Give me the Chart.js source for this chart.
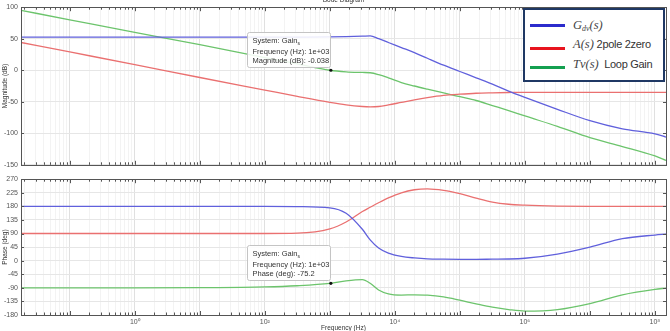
<!DOCTYPE html>
<html>
<head>
<meta charset="utf-8">
<script src="https://cdn.jsdelivr.net/npm/chart.js@4.4.1/dist/chart.umd.min.js"></script>
<style>
  body { margin: 0; background: #fff; width: 670px; height: 331px; overflow: hidden; position: relative; font-family: "Liberation Sans", Arial, sans-serif; }
  #magWrap { position: absolute; left: 0; top: 0; width: 670px; height: 172px; }
  #phaseWrap { position: absolute; left: 0; top: 172px; width: 670px; height: 159px; }
  #legendBox { position: absolute; left: 523px; top: 8px; width: 142px; height: 74px; box-sizing: border-box; border: 2.5px solid #1f3864; background: #fff; }
  .swatch { position: absolute; left: 530px; width: 35px; height: 3px; }
  .ltext { position: absolute; left: 573px; height: 14px; line-height: 14px; font-size: 11px; color: #333; letter-spacing: -0.3px; white-space: nowrap; }
  .ltext i { font-family: "Liberation Serif", "DejaVu Serif", serif; font-size: 12.5px; letter-spacing: 0; color: #444; }
  .ltext sub { font-size: 8px; vertical-align: -2px; }
</style>
</head>
<body>
<div id="magWrap"><canvas id="magChart" width="670" height="172"></canvas></div>
<div id="phaseWrap"><canvas id="phaseChart" width="670" height="159"></canvas></div>

<div id="legendBox"></div>
<div class="swatch" style="top:24px;background:#2b2bcc"></div>
<div class="swatch" style="top:47px;background:#e8141e"></div>
<div class="swatch" style="top:66px;background:#14a050"></div>
<div class="ltext" style="top:18px"><i>G<sub>dv</sub>(s)</i></div>
<div class="ltext" style="top:37px"><i>A(s)</i> 2pole 2zero</div>
<div class="ltext" style="top:57px"><i>Tv(s)</i>&nbsp; Loop Gain</div>

<script>
// frequency points (Hz)
const freqHz = [0.0178, 0.1, 1, 10, 100, 316, 1000, 1778, 3162, 4169, 5623, 7943, 12589,
  19953, 31623, 56234, 1e5, 177828, 316228, 562341, 1e6, 3.16e6, 1e7, 3.16e7, 1e8, 1.48e8];

// magnitude (dB)
const gdvMag = [52.5, 52.5, 52.5, 52.5, 52.5, 52.6, 52.8, 53.2, 54, 54.5, 50, 44, 36, 28, 19, 8,
  -2, -12, -22, -33, -43, -62, -80, -93, -101, -106];
const aMag = [44, 29, 9, -11.5, -31.5, -41.5, -51, -55, -57.5, -58, -57.5, -55, -51, -47, -43.5,
  -40, -38, -36.5, -35.8, -35.3, -35, -35, -35, -35, -35, -35];
const tvMag = [95, 80, 60, 40.5, 20, 10, 0, -2.5, -3.5, -4, -7, -12, -19.5, -25, -30, -36, -42,
  -48, -56, -64, -72.5, -89, -107, -121, -136, -143];

// phase (deg)
const gdvPhase = [180, 180, 180, 180, 180, 179, 175, 157, 104, 69, 42, 25, 14, 9, 6, 5, 4.5, 4.5,
  5, 5.5, 8, 22, 45, 73, 85, 88];
const aPhase = [90, 90, 90, 90, 90, 91, 105, 128, 163, 177, 192, 208, 225, 235, 238, 233, 222,
  207, 194, 187, 184, 181, 180, 180, 180, 180];
const tvPhase = [-90, -90, -90, -89.5, -87, -83, -75.2, -67, -63, -75, -97, -110, -114, -113,
  -114, -120, -131, -143, -154, -162, -167, -162, -142, -113, -95, -91];

// axis ranges and ticks
const freqMin = Math.pow(10, -1.75);
const freqMax = Math.pow(10, 8.17);
const magTicks = { min: -150, max: 100, step: 50 };
const phaseTicks = { min: -180, max: 270, step: 45 };
const labelExps = [0, 2, 4, 6, 8];

// datatip values
const tipFreq = 1000;
const tipMag = -0.038;
const tipPhase = -75.2;

const colors = { gdv: "rgb(96,96,220)", a: "rgb(234,112,112)", tv: "rgb(108,196,108)" };

// helpers
const sup = { 0: "\u2070", 2: "\u00b2", 4: "\u2074", 6: "\u2076", 8: "\u2078" };
function isMajor(v) {
  const l = Math.log10(v);
  return Math.abs(l - Math.round(l)) < 1e-6;
}
function buildLogTicks(scale) {
  const list = [];
  for (let n = -2; n <= 8; n++) {
    for (let k = 1; k <= 9; k++) {
      const v = k * Math.pow(10, n);
      if (v >= scale.min * 0.999 && v <= scale.max * 1.001) list.push({ value: v });
    }
  }
  scale.ticks = list;
}
function series(label, ys, color) {
  return {
    label,
    data: freqHz.map((f, i) => ({ x: f, y: ys[i] })),
    borderColor: color,
    borderWidth: 1.3,
    pointRadius: 0,
    cubicInterpolationMode: "monotone",
    fill: false,
  };
}

// draw box, inner ticks, titles and datatip
const framePlugin = {
  id: "frame",
  afterDraw(chart, args, opts) {
    const { ctx, chartArea: a, scales } = chart;
    const x = scales.x, y = scales.y;
    ctx.save();
    ctx.strokeStyle = "#555";
    ctx.lineWidth = 1;
    ctx.beginPath();
    x.ticks.forEach((t) => {
      const px = Math.round(x.getPixelForValue(t.value)) + 0.5;
      const len = isMajor(t.value) ? 4 : 2.5;
      ctx.moveTo(px, a.top); ctx.lineTo(px, a.top + len);
      ctx.moveTo(px, a.bottom); ctx.lineTo(px, a.bottom - len);
    });
    y.ticks.forEach((t) => {
      const py = Math.round(y.getPixelForValue(t.value)) + 0.5;
      ctx.moveTo(a.left, py); ctx.lineTo(a.left + 3, py);
      ctx.moveTo(a.right, py); ctx.lineTo(a.right - 3, py);
    });
    ctx.stroke();
    ctx.strokeRect(Math.round(a.left) + 0.5, Math.round(a.top) + 0.5,
      Math.round(a.right - a.left), Math.round(a.bottom - a.top));

    // y title
    ctx.fillStyle = "#333";
    ctx.font = '6.5px "Liberation Sans", Arial, sans-serif';
    ctx.textAlign = "center";
    ctx.textBaseline = "middle";
    ctx.save();
    ctx.translate(5, (a.top + a.bottom) / 2);
    ctx.rotate(-Math.PI / 2);
    ctx.fillText(opts.yTitle, 0, 0);
    ctx.restore();

    if (opts.heading) ctx.fillText(opts.heading, (a.left + a.right) / 2, 0.5);
    if (opts.xTitle) ctx.fillText(opts.xTitle, (a.left + a.right) / 2, chart.height - 3);

    // datatip
    const tip = opts.tip;
    if (tip) {
      const px = x.getPixelForValue(tip.x) + 1;
      const py = y.getPixelForValue(tip.y);
      const bx = Math.round(px - 84) + 0.5, by = Math.round(py - 38) + 0.5;
      ctx.fillStyle = "rgba(255,255,255,0.88)";
      ctx.strokeStyle = "#c4c4c4";
      ctx.beginPath();
      ctx.roundRect(bx, by, 83, 35, 2);
      ctx.fill();
      ctx.stroke();
      ctx.fillStyle = "#333";
      ctx.textAlign = "left";
      ctx.font = '7.5px "Liberation Sans", Arial, sans-serif';
      ctx.fillText("System: Gain", bx + 5, by + 8);
      const w = ctx.measureText("System: Gain").width;
      ctx.font = '5px "Liberation Sans", Arial, sans-serif';
      ctx.fillText("s", bx + 5 + w, by + 11);
      ctx.font = '7.5px "Liberation Sans", Arial, sans-serif';
      ctx.fillText("Frequency (Hz): 1e+03", bx + 5, by + 19.5);
      ctx.fillText(tip.label, bx + 5, by + 28.5);
      ctx.fillStyle = "#111";
      ctx.beginPath();
      ctx.arc(px, py, 1.6, 0, Math.PI * 2);
      ctx.fill();
    }
    ctx.restore();
  },
};

function makeChart(id, sets, range, cfg) {
  return new Chart(document.getElementById(id), {
    type: "line",
    data: { datasets: sets },
    plugins: [framePlugin],
    options: {
      responsive: false,
      animation: false,
      devicePixelRatio: 1,
      layout: { padding: { top: cfg.padTop, right: 4, left: 0, bottom: 0 } },
      plugins: { legend: { display: false }, tooltip: { enabled: false }, frame: cfg.frame },
      scales: {
        x: {
          type: "logarithmic",
          min: freqMin,
          max: freqMax,
          afterBuildTicks: buildLogTicks,
          afterFit: (s) => { s.height = cfg.xHeight; },
          border: { display: false },
          grid: {
            drawTicks: false,
            color: (c) => (c.tick && isMajor(c.tick.value) ? "#e0e0e0" : "#f3f3f3"),
          },
          ticks: {
            display: cfg.xLabels,
            autoSkip: false,
            maxRotation: 0,
            padding: 3,
            color: "#555",
            font: { size: 7, family: '"Liberation Sans", Arial, sans-serif' },
            callback: (v) => {
              if (!isMajor(v)) return "";
              const e = Math.round(Math.log10(v));
              return labelExps.includes(e) ? "10" + sup[e] : "";
            },
          },
        },
        y: {
          min: range.min,
          max: range.max,
          afterFit: (s) => { s.width = 21; },
          border: { display: false },
          grid: { drawTicks: false, color: "#e6e6e6" },
          ticks: {
            stepSize: range.step,
            padding: 3,
            color: "#555",
            font: { size: 7, family: '"Liberation Sans", Arial, sans-serif' },
          },
        },
      },
    },
  });
}

makeChart("magChart", [
  series("Gdv", gdvMag, colors.gdv),
  series("A", aMag, colors.a),
  series("Tv", tvMag, colors.tv),
], magTicks, {
  padTop: 7, xHeight: 5, xLabels: false,
  frame: { yTitle: "Magnitude (dB)", heading: "Bode Diagram", tip: { x: tipFreq, y: tipMag, label: "Magnitude (dB): " + tipMag } },
});

makeChart("phaseChart", [
  series("Gdv", gdvPhase, colors.gdv),
  series("A", aPhase, colors.a),
  series("Tv", tvPhase, colors.tv),
], phaseTicks, {
  padTop: 2, xHeight: 16, xLabels: true,
  frame: { yTitle: "Phase (deg)", xTitle: "Frequency (Hz)", tip: { x: tipFreq, y: tipPhase, label: "Phase (deg): " + tipPhase } },
});
</script>
</body>
</html>
